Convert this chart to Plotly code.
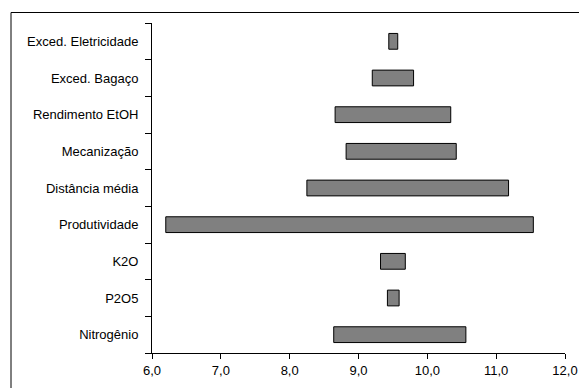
import plotly.graph_objects as go

categories = ["Nitrogênio", "P2O5", "K2O", "Produtividade", "Distância média",
              "Mecanização", "Rendimento EtOH", "Exced. Bagaço", "Exced. Eletricidade"]
low_values = [8.64, 9.42, 9.32, 6.20, 8.25, 8.82, 8.66, 9.20, 9.44]
high_values = [10.56, 9.59, 9.68, 11.54, 11.18, 10.42, 10.34, 9.80, 9.57]
x_ticks = [6, 7, 8, 9, 10, 11, 12]

W, H = 579, 388
ml, mr, mt, mb = 152, 14, 23, 35
pw, ph = W - ml - mr, H - mt - mb

fig = go.Figure()
fig.add_trace(go.Bar(
    y=categories,
    x=[h - l for h, l in zip(high_values, low_values)],
    base=low_values,
    orientation="h",
    width=0.43,
    marker=dict(color="#808080", line=dict(color="#000000", width=1)),
    hoverinfo="skip",
))

def px_x(p):
    return (p - ml) / pw

def px_y(p):
    return (H - mb - p) / ph

fig.update_layout(
    width=W, height=H,
    margin=dict(l=ml, r=mr, t=mt, b=mb, autoexpand=False),
    paper_bgcolor="white", plot_bgcolor="white",
    showlegend=False,
    separators=",.",
    font=dict(family="Liberation Sans, Arial, sans-serif", size=13, color="#000000"),
    xaxis=dict(
        range=[6, 12], tickvals=x_ticks, tickformat=".1f",
        showgrid=False, zeroline=False, automargin=False,
        showline=True, linecolor="#000000", linewidth=1,
        ticks="outside", ticklen=5, tickcolor="#000000", tickwidth=1,
    ),
    yaxis=dict(
        type="category", categoryorder="array", categoryarray=categories,
        range=[-0.5, 8.5], automargin=False,
        showgrid=False, zeroline=False,
        showline=True, linecolor="#000000", linewidth=1,
        ticks="outside", ticklen=6, tickcolor="#000000", tickwidth=1,
        tickson="boundaries", ticklabelstandoff=10,
    ),
    shapes=[dict(
        type="rect", xref="paper", yref="paper",
        x0=px_x(11), x1=px_x(600), y0=px_y(400), y1=px_y(12.5),
        line=dict(color="#000000", width=1), fillcolor="rgba(0,0,0,0)",
        layer="below",
    )],
)

fig.write_html("out.html", config={"displayModeBar": False, "staticPlot": True},
               post_script="document.body.style.margin='0';document.body.style.overflow='hidden';")
